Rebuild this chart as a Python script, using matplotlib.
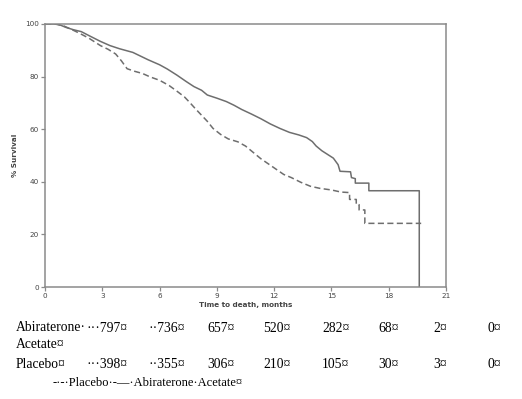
import matplotlib
matplotlib.use('Agg')
import matplotlib.pyplot as plt

###############################
# data
###############################
abi_t = [0, 0.5, 0.8, 1.1, 1.5, 1.9, 2.3, 2.9, 3.4, 3.9, 4.6, 5.0, 5.4, 6.0,
         6.4, 6.9, 7.4, 7.8, 8.2, 8.5, 9.0, 9.5, 9.9, 10.3, 10.8, 11.3, 11.8,
         12.3, 12.8, 13.3, 13.7, 14.0, 14.2, 14.5, 14.8, 15.1, 15.35, 15.45,
         16.0, 16.05, 16.25, 16.25, 16.96, 16.96, 19.6, 19.6]
abi_s = [100, 100, 99.6, 98.7, 97.8, 97.1, 95.6, 93.4, 91.8, 90.6, 89.2, 87.8,
         86.4, 84.5, 82.9, 80.6, 78.1, 76.2, 74.8, 73.0, 71.8, 70.5, 69.1, 67.5,
         65.8, 64.0, 62.0, 60.3, 58.8, 57.8, 56.8, 55.3, 53.6, 51.8, 50.4, 49.0,
         46.5, 44.0, 43.8, 41.6, 41.2, 39.5, 39.5, 36.6, 36.6, 0]

pbo_t = [0, 0.6, 1.0, 1.4, 1.8, 2.3, 2.9, 3.3, 3.7, 4.0, 4.3, 4.7, 5.1, 5.5,
         6.0, 6.5, 6.9, 7.3, 7.6, 7.9, 8.2, 8.5, 8.8, 9.2, 9.6, 10.1, 10.5,
         10.9, 11.3, 11.7, 12.1, 12.5, 12.9, 13.4, 13.9, 14.4, 15.0, 15.5,
         15.95, 15.95, 16.3, 16.3, 16.45, 16.45, 16.75, 16.75, 19.7]
pbo_s = [100, 100, 99.2, 97.9, 96.5, 94.6, 91.8, 90.4, 88.6, 86.0, 83.0, 82.0,
         81.2, 79.9, 78.6, 76.6, 74.5, 72.3, 70.0, 67.6, 65.3, 63.0, 60.3, 58.0,
         56.3, 55.2, 53.6, 51.2, 48.8, 46.8, 44.8, 42.8, 41.6, 39.8, 38.3, 37.5,
         36.9, 36.1, 35.9, 33.3, 33.3, 31.3, 31.3, 29.3, 29.3, 24.2, 24.2]

x_ticks = [0, 3, 6, 9, 12, 15, 18, 21]
y_ticks = [0, 20, 40, 60, 80, 100]

row_labels = ['Abiraterone·\nAcetate¤', 'Placebo¤']
abi_risk = ['···797¤', '··736¤', '657¤', '520¤', '282¤', '68¤', '2¤', '0¤']
pbo_risk = ['···398¤', '··355¤', '306¤', '210¤', '105¤', '30¤', '3¤', '0¤']
legend_text = '-·-·Placebo·-—·Abiraterone·Acetate¤'

###############################
# plot
###############################
W, H = 522, 399
fig = plt.figure(figsize=(W / 100, H / 100), dpi=100)
ax = fig.add_axes([45 / W, 1 - 287 / H, (446 - 45) / W, (287 - 24) / H])

line_col = '#6e6e6e'
ax.plot(abi_t, abi_s, color=line_col, lw=1.1)
ax.plot(pbo_t, pbo_s, color=line_col, lw=1.1, dashes=(4, 2.2))

ax.set_xlim(0, 21)
ax.set_ylim(0, 100)
ax.set_xticks(x_ticks)
ax.set_yticks(y_ticks)

for sp in ax.spines.values():
    sp.set_color('#8a8a8a')
    sp.set_linewidth(1.1)

ax.tick_params(axis='both', direction='out', length=3, width=0.9,
               color='#8a8a8a', labelsize=5.2, labelcolor='#444444', pad=1.5)

ax.set_xlabel('Time to death, months', fontsize=5.2, fontweight='bold',
              color='#444444', labelpad=2)
ax.set_ylabel('% Survival', fontsize=5.2, fontweight='bold',
              color='#444444', labelpad=5)

# number at risk table below the chart
serif = 'Liberation Serif'
col_x = [86, 148, 207, 263, 322, 378, 433, 488]
fig.text(16 / W, 1 - 321 / H, row_labels[0], family=serif, fontsize=9.8,
         va='top', ha='left', linespacing=1.35)
fig.text(16 / W, 1 - 364 / H, row_labels[1], family=serif, fontsize=9.8,
         va='center', ha='left')
for i in range(len(col_x)):
    fig.text(col_x[i] / W, 1 - 329 / H, abi_risk[i], family=serif,
             fontsize=9.8, va='center', ha='left')
    fig.text(col_x[i] / W, 1 - 364 / H, pbo_risk[i], family=serif,
             fontsize=9.8, va='center', ha='left')

fig.text(53 / W, 1 - 383 / H, legend_text, family=serif, fontsize=9.0,
         va='center', ha='left')

fig.savefig('out.png', dpi=100)
